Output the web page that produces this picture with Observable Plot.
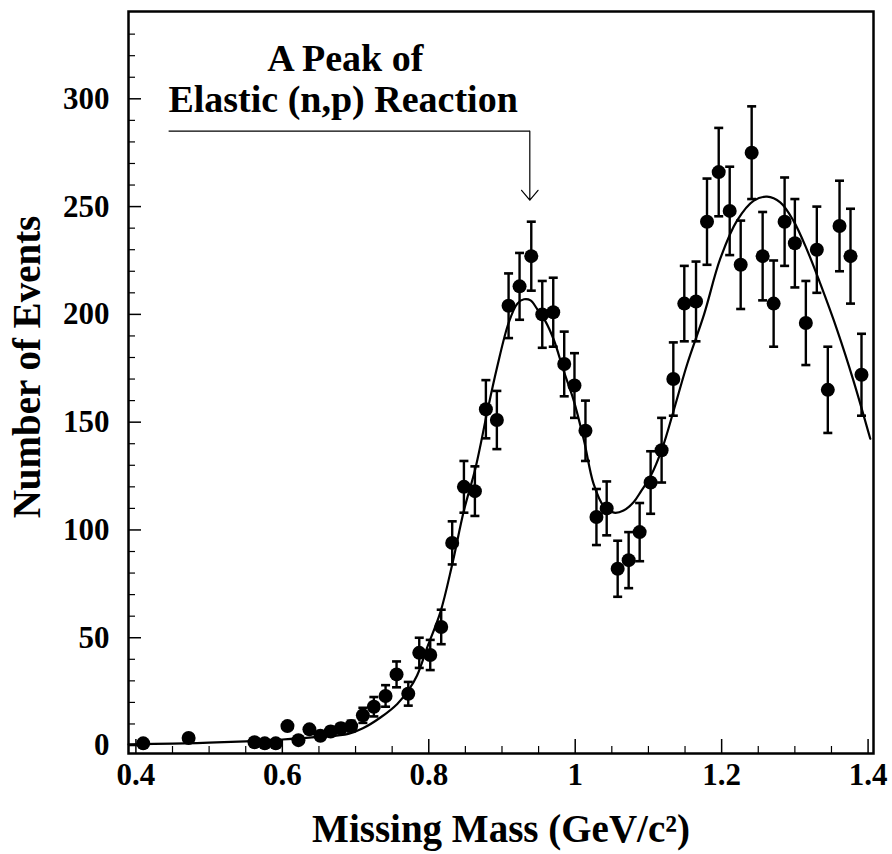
<!DOCTYPE html>
<html><head><meta charset="utf-8">
<script src="https://cdn.jsdelivr.net/npm/d3@7"></script>
<script src="https://cdn.jsdelivr.net/npm/@observablehq/plot@0.6"></script>
<style>body{margin:0;background:#fff}#chart svg{display:block}</style>
</head><body><div id="chart"></div>
<script>
// Measured points (missing mass in GeV/c^2, number of events, error half-length)
const mass = [0.410,0.472,0.562,0.576,0.591,0.607,0.622,0.637,0.652,0.666,0.680,0.694,0.710,0.725,0.741,0.756,0.772,0.787,0.802,0.817,
  0.832,0.848,0.863,0.878,0.893,0.909,0.924,0.940,0.955,0.970,0.985,0.999,1.014,1.029,1.043,1.058,1.073,1.088,1.103,1.118,
  1.134,1.149,1.165,1.180,1.196,1.211,1.226,1.241,1.256,1.271,1.286,1.300,1.315,1.330,1.345,1.361,1.376,1.391];
const events = [1,3.5,1.5,1,1,9,2.5,7.5,4.5,6.5,8,9,14,18,23,33,24,43,42,55,
  94,120,118,156,151,204,213,227,200,201,177,167,146,106,110,82,86,99,122,137,
  170,205,206,243,266,248,223,275,227,205,243,233,196,230,165,241,227,172];
const errors = [0,0,0,0,0,0,0,0,0,2,2,2.5,3.5,4.5,5,6,5.5,7,7,8,
  10,12,11.5,13.5,13.5,15,15.5,16,15.5,16,15,15,14,13,12.5,13,13,13.5,14.5,15,
  17,17.5,18.5,20,20.5,20.5,20.5,21.5,20.5,20,20.5,20.5,19.5,20,20,21,22,19];

// Fitted curve
const fitMass = [0.390,0.450,0.500,0.550,0.600,0.650,0.690,0.710,0.734,0.757,0.773,0.784,0.798,0.816,0.832,0.848,0.864,0.880,0.893,0.909,
  0.921,0.930,0.939,0.948,0.959,0.971,0.984,0.998,1.012,1.025,1.039,1.053,1.066,1.080,1.090,1.103,1.119,1.135,1.153,1.176,
  1.198,1.221,1.244,1.262,1.280,1.298,1.317,1.335,1.358,1.380,1.403];
const fitEvents = [0.5,0.9,1.3,1.9,2.8,4.0,5.4,8.0,13,19.3,26,32.5,45.6,62,84,109,129,155,175,196,
  205,207,206.5,202.5,197,188,174,160,141.5,121.5,111,108,109,113,118,125,138,156,177,200,
  225.7,243.5,252.8,254.6,252,243.5,229.6,214,192.5,169.3,142.3];

// Axis ticks
const xTickLabels = [0.4,0.6,0.8,1,1.2,1.4];
const xMinorTicks = [0.45,0.5,0.55,0.65,0.7,0.75,0.85,0.9,0.95,1.05,1.1,1.15,1.25,1.3,1.35];
const yTickLabels = [0,50,100,150,200,250,300];
const yMinorTicks = [10,20,30,40,60,70,80,90,110,120,130,140,160,170,180,190,210,220,230,240,260,270,280,290,310,320,330];

// Annotation
const annotationLines = ["A Peak of", "Elastic (n,p) Reaction"];
const annotationX = [0.686, 0.683];
const annotationY = [318.7, 299.4];
const arrowXStart = 0.4447, arrowXEnd = 0.938, arrowYLevel = 285, arrowYTip = 253;

const xTitle = "Missing Mass (GeV/c²)";
const yTitle = "Number of Events";

const points = mass.map((m, i) => ({m, n: events[i], e: errors[i]}));
const withErr = points.filter(d => d.e > 0);
const fit = fitMass.map((m, i) => ({m, n: fitEvents[i]}));
const notes = annotationLines.map((t, i) => ({t, x: annotationX[i], y: annotationY[i]}));

const W = 892, H = 854, mL = 128, mR = 19, mT = 11, mB = 101;
const fw = W - mL - mR, fh = H - mT - mB;
const cap = {draw(ctx, size) { const r = Math.sqrt(size / Math.PI); ctx.moveTo(-r, 0); ctx.lineTo(r, 0); }};
const font = "'Liberation Serif','Times New Roman',serif";

const chart = Plot.plot({
  width: W, height: H,
  marginLeft: mL, marginRight: mR, marginTop: mT, marginBottom: mB,
  style: {fontFamily: font, fontWeight: "bold", color: "black", background: "white"},
  x: {domain: [0.3899, 1.4074]},
  y: {domain: [-3.7, 340.5]},
  marks: [
    Plot.tickY(yTickLabels, {y: d => d, insetRight: fw - 13, strokeWidth: 1.5}),
    Plot.tickY(yMinorTicks, {y: d => d, insetRight: fw - 7, strokeWidth: 1.2}),
    Plot.tickX(xTickLabels, {x: d => d, insetTop: fh - 14, strokeWidth: 1.5}),
    Plot.tickX(xMinorTicks, {x: d => d, insetTop: fh - 7, strokeWidth: 1.2}),
    Plot.axisY(yTickLabels, {tickSize: 0, tickPadding: 19, fontSize: 31, label: null, tickFormat: d => String(d)}),
    Plot.axisX(xTickLabels, {tickSize: 0, tickPadding: 9, fontSize: 31, label: null, tickFormat: d => String(d)}),
    Plot.line(fit, {x: "m", y: "n", curve: "catmull-rom", stroke: "black", strokeWidth: 2.2}),
    Plot.ruleX(withErr, {x: "m", y1: d => d.n - d.e, y2: d => d.n + d.e, stroke: "black", strokeWidth: 2.4}),
    Plot.dot(withErr, {x: "m", y: d => d.n + d.e, symbol: cap, r: 4.5, stroke: "black", fill: "none", strokeWidth: 2.6}),
    Plot.dot(withErr, {x: "m", y: d => d.n - d.e, symbol: cap, r: 4.5, stroke: "black", fill: "none", strokeWidth: 2.6}),
    Plot.dot(points, {x: "m", y: "n", r: 7, fill: "black", stroke: "none"}),
    Plot.link([0], {x1: () => arrowXStart, x2: () => arrowXEnd, y1: () => arrowYLevel, y2: () => arrowYLevel, stroke: "black", strokeWidth: 1.2}),
    Plot.arrow([0], {x1: () => arrowXEnd, x2: () => arrowXEnd, y1: () => arrowYLevel, y2: () => arrowYTip, stroke: "black", strokeWidth: 1.2, headLength: 16, headAngle: 80}),
    Plot.text(notes, {x: "x", y: "y", text: "t", fontSize: 38, fontWeight: "bold", fill: "black"}),
    Plot.text([xTitle], {frameAnchor: "bottom", textAnchor: "middle", lineAnchor: "bottom", dy: 88, fontSize: 39, fontWeight: "bold", fill: "black"}),
    Plot.text([yTitle], {frameAnchor: "left", textAnchor: "middle", lineAnchor: "middle", rotate: -90, dx: -100.5, dy: -15.5, fontSize: 39, fontWeight: "bold", fill: "black"}),
    Plot.frame({stroke: "black", strokeWidth: 2.5})
  ]
});
document.getElementById("chart").appendChild(chart);
</script>
</body></html>
